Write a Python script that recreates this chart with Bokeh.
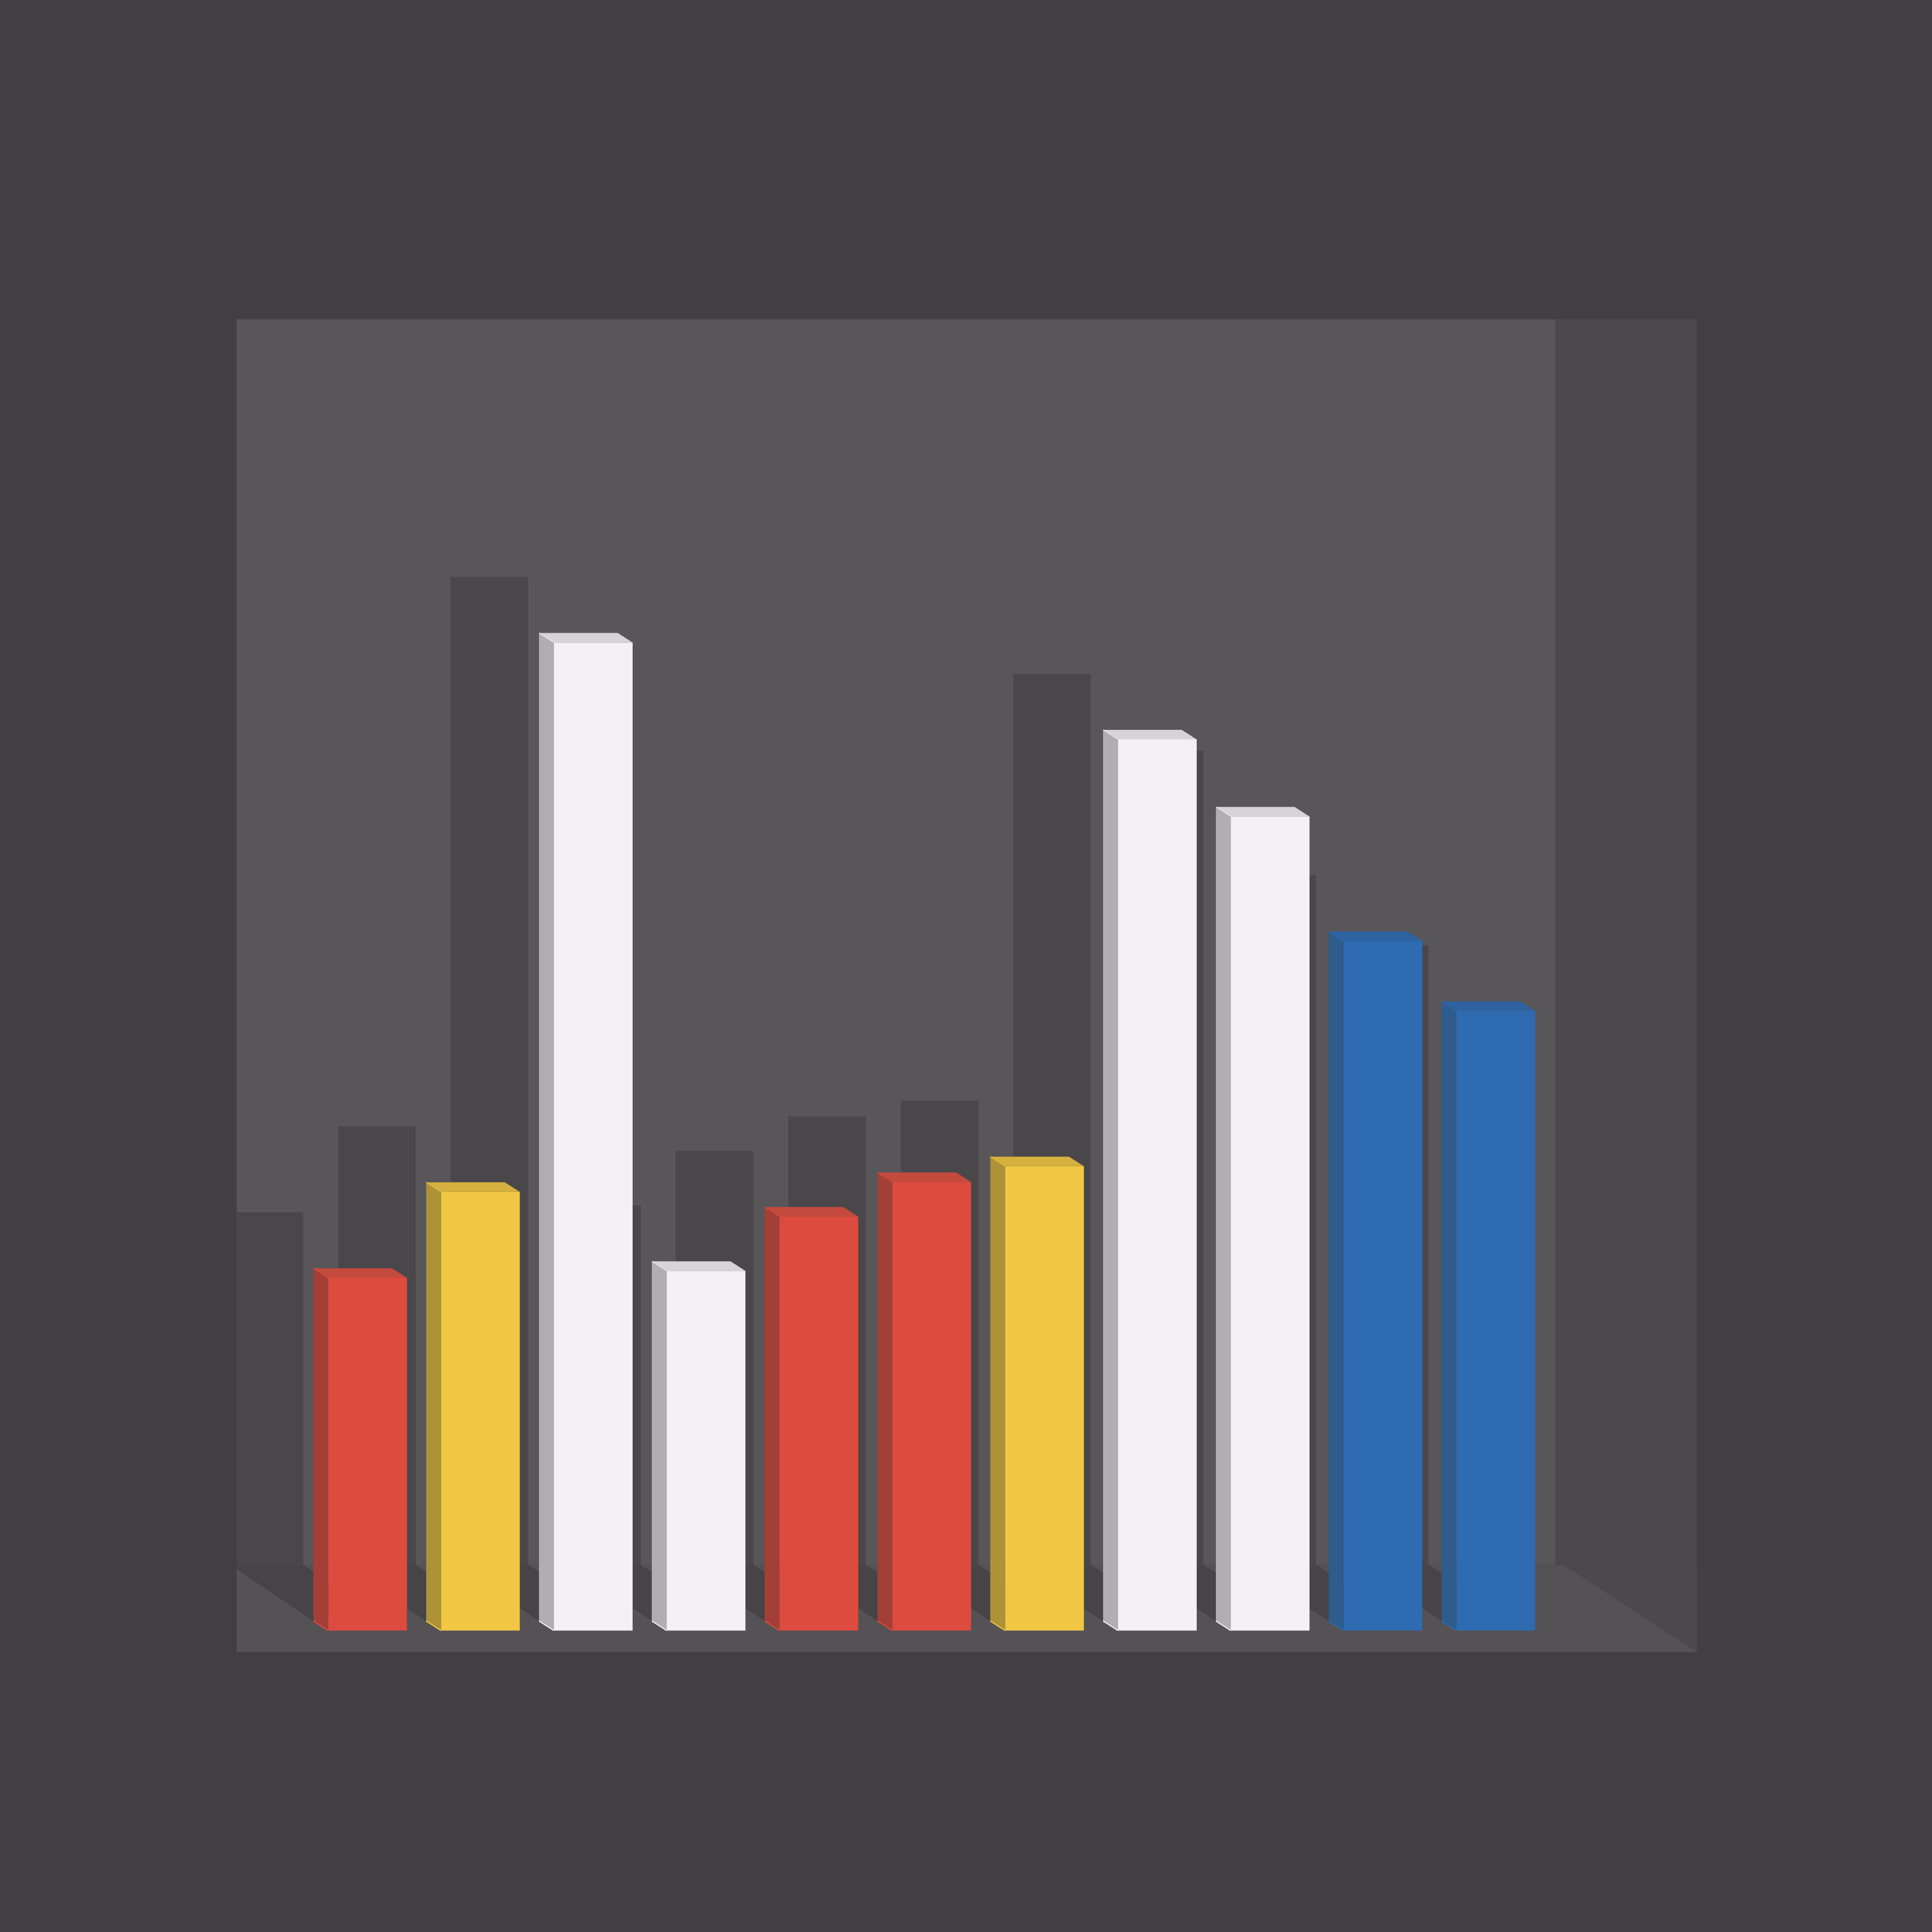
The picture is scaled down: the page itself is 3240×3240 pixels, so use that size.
from bokeh.plotting import figure
from bokeh.models import Range1d, ColumnDataSource
from bokeh.embed import file_html
from bokeh.resources import INLINE

# ---- data (tallest bar = 100) ----
values = [35.7, 44.4, 100.0, 36.4, 41.9, 45.4, 47.0, 90.2, 82.4, 69.8, 62.7]
front_colors = ["#dd4b3e", "#f2c744", "#f3f1f5", "#f3f1f5", "#dd4b3e", "#dd4b3e",
                "#f2c744", "#f3f1f5", "#f3f1f5", "#2e6bb0", "#2e6bb0"]
side_colors = ["#a33f37", "#ae9238", "#b0aeb1", "#b0aeb1", "#a33f37", "#a33f37",
               "#ae9238", "#b0aeb1", "#b0aeb1", "#2d5c8d", "#2d5c8d"]
top_colors = ["#c44a3d", "#d5b03e", "#d6d4d8", "#d6d4d8", "#c44a3d", "#c44a3d",
              "#d5b03e", "#d6d4d8", "#d6d4d8", "#2e62a0", "#2e62a0"]

# ---- scene styling ----
BG = "#413f42"
WALL = "#585659"
RIGHT_WALL = "#4b494c"
FLOOR = "#545255"
WALL_SHADOW = "#49474a"
FLOOR_SHADOW = "#464447"

PAGE = 3224
ORIGIN = 0
X0, PITCH = 616.0, 189.2     # page px of slot 0 centre, px per slot
Y0, UNIT = 2734.0, 16.57     # page px of value 0, px per value unit


def fx(px):
    return (px - X0) / PITCH


def fy(px):
    return (Y0 - px) / UNIT


def dx(px):
    return px / PITCH


def dy(px):
    return px / UNIT


HALF = dx(66)
DEPTH_X, DEPTH_Y = dx(25), dy(16)
SHADOW_C0, SHADOW_PITCH = fx(443), dx(188.7)   # centre of first shadow, shadow spacing
SHADOW_HALF, SHADOW_BASE = dx(65), dy(110)
FOOT_INSET = dx(8)
PANEL_L, PANEL_R, PANEL_T, PANEL_B = fx(396), fx(2845), fy(535), fy(2770)
WALL_R, FLOOR_T = fx(2608), fy(2624)

p = figure(width=PAGE, height=PAGE, output_backend="svg", toolbar_location=None,
           x_range=Range1d(fx(ORIGIN), fx(ORIGIN + PAGE)),
           y_range=Range1d(fy(ORIGIN + PAGE), fy(ORIGIN)),
           x_axis_location=None, y_axis_location=None,
           min_border=0, background_fill_color=BG, border_fill_color=BG,
           outline_line_color=None)
p.grid.visible = False

# back wall
p.quad(left=[PANEL_L], right=[WALL_R], bottom=[FLOOR_T], top=[PANEL_T], fill_color=WALL, line_color=None)

idx = list(range(len(values)))
shadow_c = [SHADOW_C0 + i * SHADOW_PITCH for i in idx]

# shadows cast on the back wall
p.quad(left=[c - SHADOW_HALF for c in shadow_c], right=[c + SHADOW_HALF for c in shadow_c],
       bottom=[SHADOW_BASE] * len(idx), top=[SHADOW_BASE + v for v in values],
       fill_color=WALL_SHADOW, line_color=None)

# floor
p.quad(left=[PANEL_L], right=[PANEL_R], bottom=[PANEL_B], top=[FLOOR_T], fill_color=FLOOR, line_color=None)

# shadows on the floor
p.patches(
    xs=[[c - SHADOW_HALF, c + SHADOW_HALF, i + HALF - DEPTH_X, i - HALF - DEPTH_X, c - SHADOW_HALF + FOOT_INSET]
        for i, c in zip(idx, shadow_c)],
    ys=[[SHADOW_BASE, SHADOW_BASE, DEPTH_Y, DEPTH_Y, SHADOW_BASE] for _ in idx],
    fill_color=FLOOR_SHADOW, line_color=None)

# right wall
p.patch(x=[WALL_R, PANEL_R, PANEL_R, fx(2623), WALL_R],
        y=[PANEL_T, PANEL_T, PANEL_B, fy(2625), fy(2625)],
        fill_color=RIGHT_WALL, line_color=None)

# everything left of the panel is page background
p.quad(left=[fx(ORIGIN)], right=[PANEL_L], bottom=[fy(ORIGIN + PAGE)], top=[fy(ORIGIN)],
       fill_color=BG, line_color=None)

# bars: side, top, front
side = ColumnDataSource(dict(
    xs=[[i - HALF - DEPTH_X, i - HALF, i - HALF, i - HALF - DEPTH_X] for i in idx],
    ys=[[DEPTH_Y, 0, v, v + DEPTH_Y] for v in values],
    c=side_colors))
p.patches("xs", "ys", source=side, fill_color="c", line_color=None)

top = ColumnDataSource(dict(
    xs=[[i - HALF, i + HALF, i + HALF - DEPTH_X, i - HALF - DEPTH_X] for i in idx],
    ys=[[v, v, v + DEPTH_Y, v + DEPTH_Y] for v in values],
    c=top_colors))
p.patches("xs", "ys", source=top, fill_color="c", line_color=None)

front = ColumnDataSource(dict(
    left=[i - HALF for i in idx], right=[i + HALF for i in idx],
    bottom=[0] * len(idx), top=values, c=front_colors))
p.quad(left="left", right="right", bottom="bottom", top="top", source=front,
       fill_color="c", line_color=None)

# thin bright edges along the foot and the top of each side face
p.segment(x0=[i - HALF - DEPTH_X for i in idx], y0=[DEPTH_Y] * len(idx),
          x1=[i - HALF for i in idx], y1=[0] * len(idx), line_color=front_colors, line_width=2)
p.segment(x0=[i - HALF - DEPTH_X for i in idx], y0=[v + DEPTH_Y for v in values],
          x1=[i - HALF for i in idx], y1=values, line_color=front_colors, line_width=1.5, line_alpha=0.7)

html = file_html(p, INLINE)
html = html.replace("</head>", f"<style>html,body{{background:{BG};}}</style></head>", 1)
open("out.html", "w").write(html)
